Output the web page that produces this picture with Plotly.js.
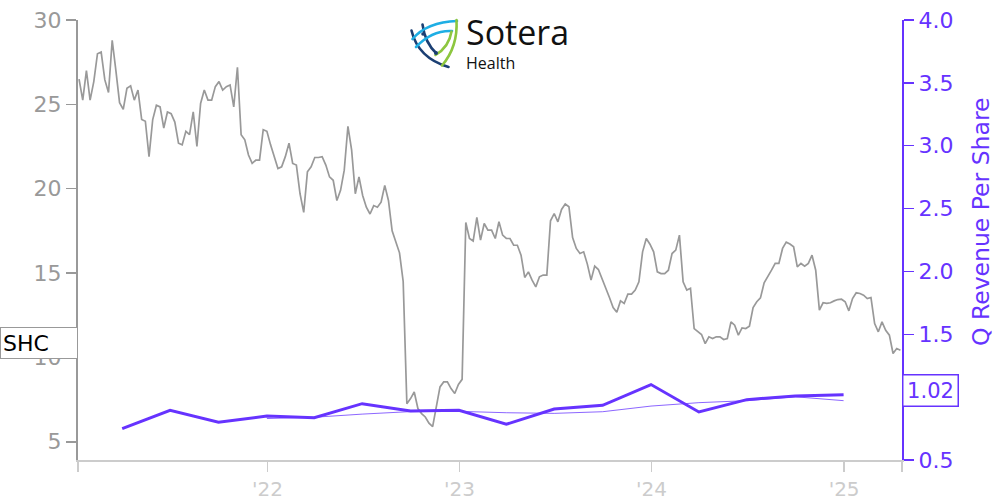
<!DOCTYPE html>
<html>
<head>
<meta charset="utf-8">
<script src="https://cdn.plot.ly/plotly-3.0.1.min.js"></script>
<style>html,body{margin:0;padding:0;background:#fff}#chart{width:1000px;height:500px}</style>
</head>
<body>
<div id="chart"></div>
<script>
// ---- data ----
const ticker = 'SHC';
const priceStart = '2021-01-08';           // first weekly close
const priceStepMs = 7 * 24 * 3600 * 1000;  // weekly sampling
const priceValues = [
 26.5,25.25,27.0,25.25,26.35,28.0,28.1,26.45,25.7,28.8,
 27.0,25.1,24.7,25.95,26.1,25.25,25.85,24.1,24.0,21.9,
 24.1,24.95,24.85,23.6,24.55,24.45,23.95,22.7,22.6,23.4,
 23.2,24.55,22.5,25.05,25.85,25.25,25.25,26.05,26.35,25.85,
 26.05,26.15,24.85,27.2,23.2,22.9,22.0,21.5,21.7,21.7,
 23.5,23.4,22.6,21.9,21.2,21.3,21.9,22.7,21.5,21.4,
 19.7,18.6,21.0,21.3,21.85,21.85,21.9,21.4,20.7,20.5,
 19.3,19.9,21.1,23.7,22.3,19.7,20.7,19.6,18.9,18.5,
 19.0,18.9,19.2,20.2,19.3,17.5,16.9,16.2,14.5,7.26,
 7.56,7.95,6.97,6.67,6.47,6.1,5.9,7.1,8.25,8.55,
 8.55,8.15,7.86,8.4,8.7,18.0,17.05,16.9,18.3,16.95,
 17.94,17.55,17.55,17.05,18.04,17.25,17.05,17.05,16.65,16.65,
 16.06,14.74,15.07,14.58,14.18,14.78,14.88,14.88,18.1,18.53,
 18.04,18.77,19.09,18.93,17.1,16.46,16.16,16.26,15.53,14.58,
 15.41,15.21,14.68,14.14,13.55,12.96,12.68,13.35,13.2,13.75,
 13.75,13.99,14.48,16.26,17.05,16.71,16.26,15.07,14.97,14.97,
 15.17,16.16,16.36,17.25,14.48,13.99,14.1,11.71,11.52,11.36,
 10.82,11.22,11.12,11.22,11.22,11.06,11.12,12.11,11.91,11.32,
 11.75,11.71,11.85,12.96,13.3,13.53,14.42,14.84,15.17,15.57,
 15.57,16.46,16.83,16.72,16.56,15.37,15.57,15.41,15.57,16.06,
 15.17,12.8,13.24,13.2,13.24,13.35,13.43,13.45,13.3,12.76,
 13.49,13.83,13.79,13.69,13.49,13.55,12.01,11.52,12.11,11.61,
 11.32,10.23,10.53,10.43
];

const quarterDates = ['2021-03-31','2021-06-30','2021-09-30','2021-12-31',
  '2022-03-31','2022-06-30','2022-09-30','2022-12-31',
  '2023-03-31','2023-06-30','2023-09-30','2023-12-31',
  '2024-03-31','2024-06-30','2024-09-30','2024-12-31'];
const qRevenuePerShare = [0.75,0.895,0.80,0.85,0.836,0.948,0.89,0.895,
  0.784,0.906,0.935,1.10,0.882,0.98,1.009,1.02];
const avgDates = ['2021-12-31','2022-03-31','2022-06-30','2022-09-30','2022-12-31',
  '2023-03-31','2023-06-30','2023-09-30','2023-12-31',
  '2024-03-31','2024-06-30','2024-09-30','2024-12-31'];
const avgRevenuePerShare = [0.83,0.84,0.865,0.885,0.887,0.876,0.871,0.884,0.929,0.956,0.972,1.003,0.972];

const xTickVals = ['2021-01-06','2022-01-01','2023-01-01','2024-01-01','2025-01-01','2025-04-21'];
const xTickText = ['',"'22","'23","'24","'25",''];
const leftTicks = [5,10,15,20,25,30];
const rightTitle = 'Q Revenue Per Share';

// ---- style ----
const PURPLE = '#6633ff';
const GRAY = '#999999';

const logoSvg = '<svg xmlns="http://www.w3.org/2000/svg" width="60" height="60" viewBox="405 15 60 60">' +
 '<g fill="none" stroke-linecap="round" stroke-width="2.6">' +
 '<path d="M411.5,30.5 Q418,58 448.5,67" stroke="#1b3f73"/>' +
 '<path d="M422.5,24.5 Q425,43 436.5,53.5" stroke="#1b3f73"/>' +
 '<path d="M412.5,39 Q427,22 457,21" stroke="#1eaee4"/>' +
 '<path d="M416,47 Q432,30 452,31" stroke="#1eaee4"/>' +
 '<path d="M456.5,20 Q458,47 442,65.5" stroke="#8dc63f"/>' +
 '<path d="M451.5,31.5 Q449,47 435.5,55" stroke="#8dc63f"/>' +
 '</g>' +
 '<circle cx="436" cy="53" r="2" fill="#1b3f73"/>' +
 '<circle cx="423" cy="34" r="1.8" fill="#1b3f73"/>' +
 '</svg>';
const logoSrc = 'data:image/svg+xml;charset=utf-8,' + encodeURIComponent(logoSvg);

const traces = [
  {
    type: 'scatter', mode: 'lines', name: ticker,
    x0: priceStart, dx: priceStepMs, y: priceValues,
    xaxis: 'x', yaxis: 'y',
    line: {color: GRAY, width: 1.7},
    hoverinfo: 'skip'
  },
  {
    type: 'scatter', mode: 'lines', name: 'avg',
    x: avgDates, y: avgRevenuePerShare, xaxis: 'x', yaxis: 'y2',
    line: {color: PURPLE, width: 1}, opacity: 0.75,
    hoverinfo: 'skip'
  },
  {
    type: 'scatter', mode: 'lines', name: rightTitle,
    x: quarterDates, y: qRevenuePerShare, xaxis: 'x', yaxis: 'y2',
    line: {color: PURPLE, width: 3},
    hoverinfo: 'skip'
  }
];

const lastPrice = priceValues[priceValues.length - 1];
const lastRev = qRevenuePerShare[qRevenuePerShare.length - 1];

const layout = {
  width: 1000, height: 500,
  margin: {l: 78, r: 98, t: 20, b: 40, pad: 0},
  paper_bgcolor: '#ffffff', plot_bgcolor: '#ffffff',
  showlegend: false,
  font: {family: 'DejaVu Sans', size: 20, color: GRAY},
  xaxis: {
    type: 'date', range: ['2021-01-06', '2025-04-21'],
    tickmode: 'array', tickvals: xTickVals, ticktext: xTickText,
    ticks: 'outside', ticklen: 10, tickwidth: 1.5, tickcolor: '#cccccc',
    showline: true, linecolor: '#cccccc', linewidth: 2,
    showgrid: false, zeroline: false,
    tickfont: {family: 'DejaVu Sans', size: 20, color: '#cccccc'}
  },
  yaxis: {
    range: [3.92, 30], tickmode: 'array', tickvals: leftTicks,
    ticks: 'outside', ticklen: 10, tickwidth: 1.5, tickcolor: GRAY,
    showline: true, linecolor: GRAY, linewidth: 2,
    showgrid: false, zeroline: false,
    tickfont: {family: 'DejaVu Sans', size: 22, color: GRAY}
  },
  yaxis2: {
    overlaying: 'y', side: 'right', range: [0.5, 4.0], dtick: 0.5, tick0: 0.5,
    tickformat: '.1f',
    ticks: 'outside', ticklen: 10, tickwidth: 1.5, tickcolor: PURPLE,
    showline: true, linecolor: PURPLE, linewidth: 2,
    showgrid: false, zeroline: false,
    tickfont: {family: 'DejaVu Sans', size: 22, color: PURPLE}
  },
  images: [{
    source: logoSrc, xref: 'paper', yref: 'paper',
    x: (405 - 78) / 824, y: (460 - 15) / 440, sizex: 60 / 824, sizey: 60 / 440,
    xanchor: 'left', yanchor: 'top', sizing: 'stretch', layer: 'above'
  }],
  annotations: [
    {
      xref: 'paper', yref: 'paper', x: (464 - 78) / 824, y: (460 - 57) / 440,
      xanchor: 'left', yanchor: 'bottom', showarrow: false,
      text: 'Sotera', font: {family: 'Open Sans', size: 34, color: '#111111'}
    },
    {
      xref: 'paper', yref: 'paper', x: (464 - 78) / 824, y: (460 - 50) / 440,
      xanchor: 'left', yanchor: 'top', showarrow: false,
      text: 'Health', font: {family: 'Open Sans', size: 16, color: '#111111'}
    },
    {
      xref: 'paper', yref: 'paper', x: (981 - 78) / 824, y: (460 - 222) / 440,
      xanchor: 'center', yanchor: 'middle', showarrow: false, textangle: -90,
      text: rightTitle, font: {family: 'DejaVu Sans', size: 23.5, color: PURPLE}
    },
    {
      xref: 'paper', yref: 'y', x: 0, y: lastPrice, yshift: 7,
      xanchor: 'right', yanchor: 'middle', showarrow: false,
      text: ticker, align: 'left', width: 72, height: 26,
      bgcolor: '#ffffff', bordercolor: GRAY, borderwidth: 1, borderpad: 2,
      font: {family: 'DejaVu Sans', size: 22, color: '#000000'}
    },
    {
      xref: 'paper', yref: 'y2', x: 1, y: lastRev, yshift: 4,
      xanchor: 'left', yanchor: 'middle', showarrow: false,
      text: lastRev.toFixed(2), width: 50, height: 26,
      bgcolor: '#ffffff', bordercolor: PURPLE, borderwidth: 1.5, borderpad: 2,
      font: {family: 'DejaVu Sans', size: 21, color: PURPLE}
    }
  ]
};

Plotly.newPlot('chart', traces, layout, {displayModeBar: false, staticPlot: true});
</script>
</body>
</html>
